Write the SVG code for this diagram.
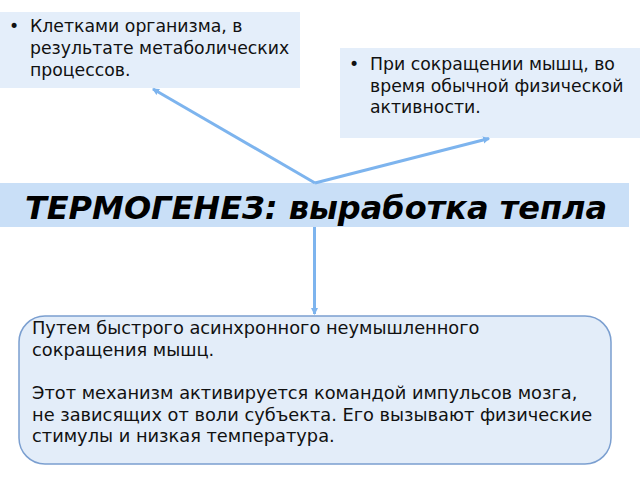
<svg xmlns="http://www.w3.org/2000/svg" width="640" height="480" viewBox="0 0 640 480">
<defs>
<marker id="ah" markerWidth="8" markerHeight="8" refX="6" refY="4" orient="auto" markerUnits="userSpaceOnUse">
<path d="M0,0.5 L7,4 L0,7.5 Z" fill="#7db4ee"/>
</marker>
<style>
.box{fill:#e4eefa;}
.t{font-family:"DejaVu Sans","Noto Sans",sans-serif;font-size:17.3px;fill:#111;}
.b{font-family:"DejaVu Sans","Noto Sans",sans-serif;font-size:17.8px;fill:#111;}
.title{font-family:"DejaVu Sans","Noto Sans",sans-serif;font-size:32px;font-weight:bold;font-style:italic;fill:#000;}
.c{fill:none;stroke:#7db4ee;stroke-width:3;}
</style>
</defs>
<rect width="640" height="480" fill="#fff"/>
<g id="node-cells">
<rect class="box" x="0" y="12" width="300" height="76"/>
<text class="t" x="9" y="32">•</text>
<text class="t" x="30" y="32">Клетками организма, в</text>
<text class="t" x="30" y="54">результате метаболических</text>
<text class="t" x="30" y="75.5">процессов.</text>
</g>
<g id="node-muscle">
<rect class="box" x="340" y="48" width="300" height="90"/>
<text class="t" x="349" y="70">•</text>
<text class="t" x="370" y="70">При сокращении мышц, во</text>
<text class="t" x="370" y="91.5">время обычной физической</text>
<text class="t" x="370" y="113">активности.</text>
</g>
<g id="node-title">
<rect x="0" y="183" width="629" height="44" fill="#c9dff7"/>
<text class="title" x="316" y="219" text-anchor="middle">ТЕРМОГЕНЕЗ: выработка тепла</text>
</g>
<g id="node-shiver">
<rect x="19" y="316" width="592" height="148" rx="26" ry="26" fill="#e3edf9" stroke="#7b9fd0" stroke-width="1.5"/>
<text class="b" x="32" y="334">Путем быстрого асинхронного неумышленного</text>
<text class="b" x="32" y="356">сокращения мышц.</text>
<text class="b" x="32" y="399">Этот механизм активируется командой импульсов мозга,</text>
<text class="b" x="32" y="420.5">не зависящих от воли субъекта. Его вызывают физические</text>
<text class="b" x="32" y="442">стимулы и низкая температура.</text>
</g>
<g id="connectors">
<line class="c" x1="315" y1="183" x2="153" y2="89" marker-end="url(#ah)"/>
<line class="c" x1="315" y1="183" x2="489" y2="138.5" marker-end="url(#ah)"/>
<line class="c" x1="314.5" y1="227" x2="314.5" y2="314" marker-end="url(#ah)"/>
</g>
</svg>
